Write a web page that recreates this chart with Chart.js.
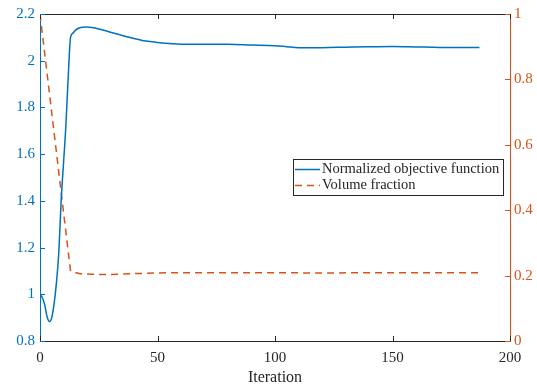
<!DOCTYPE html>
<html>
<head>
<meta charset="utf-8">
<script src="https://cdn.jsdelivr.net/npm/chart.js@4"></script>
<style>
  html, body { margin: 0; padding: 0; background: #fff; }
  #wrap { width: 537px; height: 391px; }
</style>
</head>
<body>
<div id="wrap"><canvas id="chart" width="537" height="391"></canvas></div>
<script>
// 目标函数（归一化）
const objIter = [0, 1, 2, 3, 4, 5, 6, 7, 8, 9, 10, 11, 12, 13, 14, 15, 16, 18, 20, 22, 25, 30, 35, 40, 45, 50, 55, 60, 70, 80, 90, 100, 105, 110, 120, 130, 140, 150, 160, 170, 180, 187];
const objValues = [1.000, 0.985, 0.955, 0.905, 0.883, 0.900, 0.960, 1.050, 1.180, 1.400, 1.560, 1.720, 1.930, 2.100, 2.118, 2.130, 2.137, 2.143, 2.144, 2.142, 2.136, 2.122, 2.108, 2.095, 2.084, 2.078, 2.074, 2.071, 2.071, 2.070, 2.067, 2.064, 2.060, 2.056, 2.056, 2.058, 2.060, 2.061, 2.059, 2.057, 2.057, 2.057];

// 体积分数
const volIter = [0, 13, 17, 22, 28, 35, 45, 55, 70, 90, 120, 150, 187];
const volValues = [1.000, 0.213, 0.206, 0.204, 0.203, 0.205, 0.207, 0.209, 0.209, 0.209, 0.208, 0.209, 0.209];

// 坐标轴刻度
const xTicks = [0, 50, 100, 150, 200];
const leftTicks = [0.8, 1, 1.2, 1.4, 1.6, 1.8, 2, 2.2];
const rightTicks = [0, 0.2, 0.4, 0.6, 0.8, 1];

const labels = ['Normalized objective function', 'Volume fraction'];

const BLUE = '#0072BD';
const ORANGE = '#D95319';
const DARK = '#262626';
const FONT = 'Liberation Serif';

// 刻度文字：去掉多余的小数位
const fmt = v => String(+Number(v).toFixed(2));

// 向内的刻度线 + 顶部边框
const insideTicks = {
  id: 'insideTicks',
  afterDraw(chart) {
    const { ctx, chartArea: a, scales } = chart;
    const len = 5;
    ctx.save();
    ctx.lineWidth = 1;
    ctx.strokeStyle = DARK;
    ctx.beginPath();
    ctx.moveTo(a.left, a.top + 0.5);
    ctx.lineTo(a.right, a.top + 0.5);
    xTicks.forEach(v => {
      const px = Math.round(scales.x.getPixelForValue(v)) + 0.5;
      ctx.moveTo(px, a.bottom);
      ctx.lineTo(px, a.bottom - len);
      ctx.moveTo(px, a.top);
      ctx.lineTo(px, a.top + len);
    });
    ctx.stroke();

    ctx.strokeStyle = BLUE;
    ctx.beginPath();
    leftTicks.forEach(v => {
      const py = Math.round(scales.y.getPixelForValue(v)) + 0.5;
      ctx.moveTo(a.left, py);
      ctx.lineTo(a.left + len, py);
    });
    ctx.stroke();

    ctx.strokeStyle = ORANGE;
    ctx.beginPath();
    rightTicks.forEach(v => {
      const py = Math.round(scales.y2.getPixelForValue(v)) + 0.5;
      ctx.moveTo(a.right, py);
      ctx.lineTo(a.right - len, py);
    });
    ctx.stroke();
    ctx.restore();
  }
};

// 图例（画在绘图区内）
const legendBox = { x: 293, y: 159, w: 210, h: 36 };
const insideLegend = {
  id: 'insideLegend',
  afterDraw(chart) {
    const ctx = chart.ctx;
    const b = legendBox;
    ctx.save();
    ctx.fillStyle = '#fff';
    ctx.fillRect(b.x, b.y, b.w, b.h);
    ctx.strokeStyle = DARK;
    ctx.lineWidth = 1;
    ctx.strokeRect(b.x + 0.5, b.y + 0.5, b.w, b.h);
    ctx.font = '14.5px "' + FONT + '"';
    ctx.textBaseline = 'middle';
    chart.data.datasets.forEach((ds, i) => {
      const cy = b.y + 10.5 + i * 16;
      ctx.strokeStyle = ds.borderColor;
      ctx.lineWidth = ds.borderWidth;
      ctx.setLineDash(ds.borderDash || []);
      ctx.beginPath();
      ctx.moveTo(b.x + 2, cy);
      ctx.lineTo(b.x + 27, cy);
      ctx.stroke();
      ctx.setLineDash([]);
      ctx.fillStyle = DARK;
      ctx.fillText(ds.label, b.x + 29, cy);
    });
    ctx.restore();
  }
};

new Chart(document.getElementById('chart'), {
  type: 'line',
  data: {
    datasets: [
      {
        label: labels[0],
        data: objIter.map((x, i) => ({ x, y: objValues[i] })),
        borderColor: BLUE,
        borderWidth: 1.5,
        pointRadius: 0,
        cubicInterpolationMode: 'monotone',
        yAxisID: 'y'
      },
      {
        label: labels[1],
        data: volIter.map((x, i) => ({ x, y: volValues[i] })),
        borderColor: ORANGE,
        borderWidth: 1.5,
        borderDash: [7, 5],
        pointRadius: 0,
        tension: 0,
        yAxisID: 'y2'
      }
    ]
  },
  options: {
    responsive: false,
    animation: false,
    devicePixelRatio: 1,
    layout: { padding: { top: 13, left: 0, right: 0, bottom: 0 } },
    plugins: { legend: { display: false }, tooltip: { enabled: false } },
    scales: {
      x: {
        type: 'linear',
        min: 0,
        max: 200,
        afterFit: s => { s.height = 50; },
        afterBuildTicks: s => { s.ticks = xTicks.map(v => ({ value: v })); },
        grid: { display: false, drawTicks: false },
        border: { display: true, color: DARK, width: 1 },
        ticks: { color: DARK, font: { family: FONT, size: 15 }, padding: 8, maxRotation: 0, callback: fmt },
        title: { display: true, text: 'Iteration', color: DARK, font: { family: FONT, size: 16 }, padding: { top: 0, bottom: 4 } }
      },
      y: {
        position: 'left',
        min: 0.8,
        max: 2.2,
        afterFit: s => { s.width = 40; },
        afterBuildTicks: s => { s.ticks = leftTicks.map(v => ({ value: v })); },
        grid: { display: false, drawTicks: false },
        border: { display: true, color: BLUE, width: 1 },
        ticks: { color: BLUE, font: { family: FONT, size: 15 }, padding: 5, callback: fmt }
      },
      y2: {
        position: 'right',
        min: 0,
        max: 1,
        afterFit: s => { s.width = 27; },
        afterBuildTicks: s => { s.ticks = rightTicks.map(v => ({ value: v })); },
        grid: { display: false, drawTicks: false },
        border: { display: true, color: ORANGE, width: 1 },
        ticks: { color: ORANGE, font: { family: FONT, size: 15 }, padding: 4, callback: fmt }
      }
    }
  },
  plugins: [insideTicks, insideLegend]
});
</script>
</body>
</html>
